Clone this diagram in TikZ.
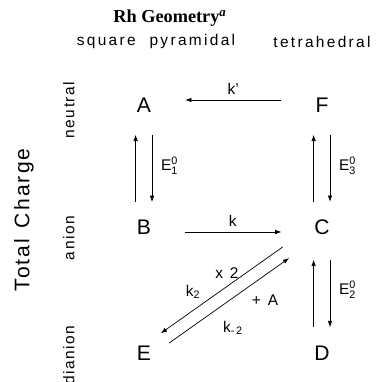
\documentclass[tikz,border=0pt]{standalone}
\usepackage{fontspec}
\setmainfont{Liberation Sans}
\setmathsf{Liberation Sans}
\newfontfamily\titlefont{Liberation Serif}
\newfontfamily\spacedfont[LetterSpace=15]{Liberation Sans}
\newfontfamily\widefont[LetterSpace=10]{Liberation Sans}
\usetikzlibrary{arrows.meta,calc}
\tikzset{
  state/.style={inner sep=1pt, font=\fontsize{15}{17}\selectfont},
  lbl/.style={font=\fontsize{11}{13}\selectfont},
  rowlbl/.style={rotate=90, font=\widefont\fontsize{11}{13}\selectfont},
  flow/.style={->, line width=0.5pt},
  >={Latex[length=4.5pt,width=3.2pt]}
}
\newcommand{\redox}[1]{$\mathsf{E}^{\mathsf{0}}_{\mathsf{#1}}$}

\begin{document}
\begin{tikzpicture}
  \useasboundingbox (0,0) rectangle (9.5,9.55);
  % headings
  \node[font=\titlefont\bfseries\fontsize{13}{15}\selectfont] (geom) at (4.25,9.1) {Rh Geometry\textsuperscript{\itshape a}};
  \node[font=\spacedfont\fontsize{11}{13}\selectfont] (sqpy) at (3.9,8.5) {square\hspace{0.9em}pyramidal};
  \node[font=\spacedfont\fontsize{11}{13}\selectfont] (tetra) at (8.05,8.5) {tetrahedral};
  \node[rotate=90, font=\widefont\fontsize{15}{17}\selectfont] (charge) at (0.6,4.05) {Total\hspace{0.5em}Charge};
  \node[rowlbl] (neutral) at (1.72,6.8) {neutral};
  \node[rowlbl] (anion) at (1.72,3.6) {anion};
  \node[rowlbl] (dianion) at (1.72,0.675) {dianion};
  % species
  \node[state] (A) at (3.6,6.925) {A};
  \node[state] (F) at (8.05,6.925) {F};
  \node[state] (B) at (3.6,3.875) {B};
  \node[state] (C) at (8.05,3.875) {C};
  \node[state] (E) at (3.6,0.725) {E};
  \node[state] (D) at (8.05,0.725) {D};
  % horizontal steps
  \draw[flow, shorten <=8.3mm, shorten >=8.1mm] ([yshift=1.25mm]F.west) -- node[lbl, above] (kp) {k'} ([yshift=1.25mm]A.east);
  \draw[flow, shorten <=8.1mm, shorten >=7.8mm] ([yshift=-1.25mm]B.east) -- node[lbl, above] (k) {k} ([yshift=-1.25mm]C.west);
  % redox couples
  \draw[flow, shorten <=4mm, shorten >=5.2mm] ([xshift=-2.1mm]B.north) -- ([xshift=-2.1mm]A.south);
  \draw[flow, shorten <=5.2mm, shorten >=4mm] ([xshift=2mm]A.south) -- node[lbl, right=1mm] (e1) {\redox{1}} ([xshift=2mm]B.north);
  \draw[flow, shorten <=4mm, shorten >=5.2mm] ([xshift=-2.1mm]C.north) -- ([xshift=-2.1mm]F.south);
  \draw[flow, shorten <=5.2mm, shorten >=4mm] ([xshift=2mm]F.south) -- node[lbl, right=1mm] (e3) {\redox{3}} ([xshift=2mm]C.north);
  \draw[flow, shorten <=4.2mm, shorten >=5.9mm] ([xshift=-2.1mm]D.north) -- ([xshift=-2.1mm]C.south);
  \draw[flow, shorten <=5.9mm, shorten >=4.2mm] ([xshift=2mm]C.south) -- node[lbl, right=1mm] (e2) {\redox{2}} ([xshift=2mm]D.north);
  % disproportionation
  \draw[flow] ($(C)!0.2!(E)!1.6mm!-90:(E)$) -- ($(C)!0.885!(E)!1.6mm!-90:(E)$);
  \draw[flow] ($(C)!0.88!(E)!1.6mm!90:(E)$) -- ($(C)!0.205!(E)!1.6mm!90:(E)$);
  \node[lbl] (times) at (5.675,2.725) {x\, 2};
  \node[lbl] (k2) at (4.825,2.25) {k\textsubscript{2}};
  \node[lbl] (plusA) at (6.625,2.05) {+\, A};
  \node[lbl] (km2) at (5.825,1.35) {k\textsubscript{-\,2}};
\end{tikzpicture}
\end{document}
